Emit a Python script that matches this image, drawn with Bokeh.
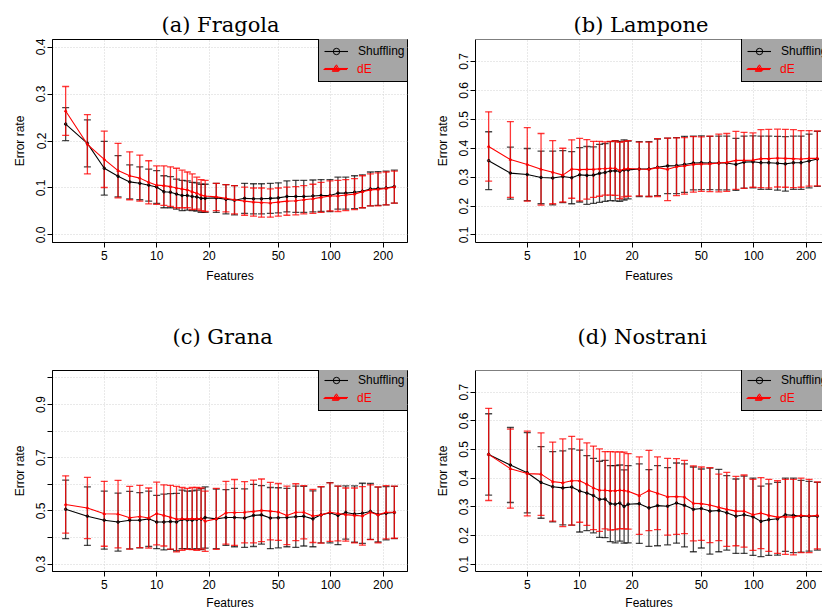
import math
from bokeh.plotting import figure
from bokeh.models import (ColumnDataSource, Range1d, FixedTicker, PrintfTickFormatter,
                          Whisker, TeeHead, Legend, LegendItem, Span)
from bokeh.layouts import column, row
from bokeh.embed import file_html
from bokeh.resources import INLINE

# ---------------- data ----------------
FEATURES = [3, 4, 5, 6, 7, 8, 9, 10, 11, 12, 13, 14, 15, 16, 17, 18, 19, 22, 25, 28,
            32, 36, 40, 45, 50, 56, 63, 70, 79, 88, 99, 110, 122, 137, 152, 169, 187, 208, 232]

X_TICKS = [5, 10, 20, 50, 100, 200]
SERIES_NAMES = ["Shuffling", "dE"]

# (a) Fragola
shuf_mean_a = [0.236, 0.195, 0.142, 0.125, 0.113, 0.110, 0.106, 0.102, 0.092, 0.091, 0.087, 0.084, 0.084,
               0.082, 0.081, 0.078, 0.078, 0.079, 0.076, 0.074, 0.078, 0.077, 0.077, 0.078, 0.079, 0.082,
               0.082, 0.082, 0.083, 0.084, 0.084, 0.089, 0.089, 0.091, 0.093, 0.098, 0.099, 0.100, 0.103]
shuf_sd_a = [0.035, 0.050, 0.057, 0.044, 0.036, 0.035, 0.034, 0.035, 0.034, 0.033, 0.032, 0.032, 0.031,
             0.030, 0.030, 0.030, 0.030, 0.031, 0.031, 0.031, 0.032, 0.032, 0.032, 0.032, 0.032, 0.033,
             0.034, 0.034, 0.034, 0.034, 0.034, 0.034, 0.034, 0.035, 0.035, 0.036, 0.036, 0.036, 0.035]
de_mean_a = [0.264, 0.193, 0.161, 0.137, 0.126, 0.121, 0.112, 0.106, 0.105, 0.103, 0.100, 0.098, 0.096,
             0.092, 0.089, 0.085, 0.083, 0.081, 0.078, 0.075, 0.072, 0.070, 0.069, 0.068, 0.070, 0.072,
             0.073, 0.075, 0.077, 0.080, 0.083, 0.083, 0.085, 0.087, 0.092, 0.096, 0.097, 0.099, 0.102]
de_sd_a = [0.052, 0.063, 0.060, 0.058, 0.051, 0.049, 0.046, 0.041, 0.042, 0.042, 0.042, 0.040, 0.038,
           0.038, 0.034, 0.033, 0.033, 0.029, 0.029, 0.030, 0.030, 0.030, 0.031, 0.030, 0.030, 0.030,
           0.030, 0.030, 0.031, 0.032, 0.032, 0.033, 0.033, 0.033, 0.034, 0.034, 0.035, 0.035, 0.034]

# (b) Lampone
shuf_mean_b = [0.357, 0.314, 0.309, 0.299, 0.297, 0.302, 0.298, 0.308, 0.306, 0.307, 0.313, 0.316, 0.321,
               0.322, 0.320, 0.325, 0.325, 0.328, 0.328, 0.334, 0.339, 0.340, 0.344, 0.349, 0.350, 0.349,
               0.349, 0.349, 0.344, 0.352, 0.353, 0.350, 0.350, 0.348, 0.346, 0.350, 0.350, 0.356, 0.363]
shuf_sd_b = [0.100, 0.090, 0.090, 0.091, 0.093, 0.090, 0.090, 0.094, 0.100, 0.098, 0.100, 0.100, 0.102,
             0.104, 0.104, 0.104, 0.100, 0.095, 0.095, 0.098, 0.096, 0.097, 0.097, 0.093, 0.093, 0.092,
             0.093, 0.093, 0.090, 0.090, 0.090, 0.092, 0.092, 0.093, 0.094, 0.092, 0.092, 0.093, 0.095]
de_mean_b = [0.406, 0.361, 0.344, 0.327, 0.317, 0.307, 0.328, 0.326, 0.327, 0.327, 0.329, 0.330, 0.331,
             0.331, 0.323, 0.328, 0.330, 0.328, 0.327, 0.333, 0.327, 0.336, 0.339, 0.344, 0.345, 0.346,
             0.349, 0.351, 0.358, 0.358, 0.359, 0.364, 0.364, 0.366, 0.365, 0.364, 0.363, 0.365, 0.365]
de_sd_b = [0.120, 0.131, 0.127, 0.124, 0.109, 0.093, 0.101, 0.108, 0.103, 0.097, 0.095, 0.092, 0.093,
           0.094, 0.097, 0.096, 0.096, 0.093, 0.094, 0.100, 0.108, 0.100, 0.098, 0.096, 0.094, 0.096,
           0.100, 0.100, 0.100, 0.097, 0.094, 0.100, 0.101, 0.100, 0.100, 0.100, 0.098, 0.096, 0.095]

# (c) Grana
shuf_mean_c = [0.506, 0.480, 0.465, 0.458, 0.465, 0.465, 0.470, 0.458, 0.458, 0.460, 0.458, 0.468, 0.466,
               0.465, 0.468, 0.469, 0.475, 0.470, 0.475, 0.475, 0.473, 0.483, 0.485, 0.473, 0.474, 0.475,
               0.478, 0.480, 0.470, 0.485, 0.493, 0.483, 0.494, 0.488, 0.491, 0.498, 0.486, 0.491, 0.494]
shuf_sd_c = [0.110, 0.110, 0.109, 0.109, 0.108, 0.104, 0.104, 0.100, 0.105, 0.105, 0.108, 0.110, 0.108,
             0.110, 0.110, 0.115, 0.115, 0.112, 0.105, 0.110, 0.110, 0.117, 0.110, 0.115, 0.113, 0.110,
             0.115, 0.112, 0.105, 0.105, 0.113, 0.110, 0.100, 0.106, 0.113, 0.105, 0.103, 0.100, 0.098]
de_mean_c = [0.524, 0.511, 0.489, 0.488, 0.474, 0.479, 0.473, 0.490, 0.483, 0.476, 0.469, 0.470, 0.470,
             0.471, 0.470, 0.471, 0.461, 0.470, 0.493, 0.494, 0.495, 0.498, 0.502, 0.499, 0.496, 0.483,
             0.495, 0.495, 0.481, 0.485, 0.495, 0.490, 0.486, 0.483, 0.481, 0.495, 0.485, 0.495, 0.495]
de_sd_c = [0.108, 0.115, 0.122, 0.127, 0.118, 0.117, 0.113, 0.118, 0.115, 0.120, 0.123, 0.118, 0.115,
           0.117, 0.118, 0.115, 0.113, 0.115, 0.118, 0.124, 0.115, 0.118, 0.118, 0.108, 0.107, 0.110,
           0.107, 0.100, 0.100, 0.106, 0.110, 0.103, 0.100, 0.103, 0.110, 0.103, 0.105, 0.100, 0.098]

# (d) Nostrani
shuf_mean_d = [0.483, 0.446, 0.419, 0.385, 0.370, 0.366, 0.369, 0.355, 0.348, 0.339, 0.326, 0.327, 0.311,
               0.309, 0.313, 0.301, 0.309, 0.311, 0.296, 0.304, 0.302, 0.313, 0.305, 0.291, 0.294, 0.285,
               0.287, 0.279, 0.267, 0.272, 0.265, 0.249, 0.255, 0.258, 0.272, 0.270, 0.267, 0.267, 0.267]
shuf_sd_d = [0.142, 0.131, 0.140, 0.125, 0.123, 0.129, 0.133, 0.143, 0.131, 0.130, 0.133, 0.135, 0.133,
             0.135, 0.133, 0.128, 0.135, 0.139, 0.134, 0.140, 0.135, 0.140, 0.145, 0.148, 0.138, 0.150,
             0.144, 0.130, 0.130, 0.135, 0.135, 0.123, 0.125, 0.127, 0.128, 0.130, 0.125, 0.122, 0.118]
de_mean_d = [0.483, 0.433, 0.416, 0.414, 0.388, 0.384, 0.391, 0.391, 0.379, 0.366, 0.358, 0.358, 0.356,
             0.356, 0.358, 0.357, 0.354, 0.339, 0.357, 0.347, 0.335, 0.336, 0.334, 0.312, 0.311, 0.306,
             0.298, 0.291, 0.285, 0.285, 0.272, 0.278, 0.270, 0.264, 0.265, 0.264, 0.270, 0.268, 0.270]
de_sd_d = [0.161, 0.138, 0.148, 0.144, 0.138, 0.153, 0.155, 0.145, 0.144, 0.146, 0.144, 0.135, 0.137,
           0.136, 0.134, 0.134, 0.132, 0.135, 0.140, 0.127, 0.134, 0.132, 0.128, 0.131, 0.128, 0.131,
           0.116, 0.129, 0.121, 0.126, 0.124, 0.124, 0.126, 0.127, 0.131, 0.132, 0.130, 0.128, 0.117]

# y limits (R style, extended by 4%) and y ticks per panel
YLIM_A, YTICKS_A = (0.0, 0.4), [0.0, 0.1, 0.2, 0.3, 0.4]
YLIM_B, YTICKS_B = (0.1, 0.75), [0.1, 0.2, 0.3, 0.4, 0.5, 0.6, 0.7]
YLIM_C, YTICKS_C = (0.3, 1.0), [0.3, 0.4, 0.5, 0.6, 0.7, 0.8, 0.9, 1.0]
YLIM_D, YTICKS_D = (0.1, 0.75), [0.1, 0.2, 0.3, 0.4, 0.5, 0.6, 0.7]
YLABELS_C = {0.3: "0.3", 0.4: "", 0.5: "0.5", 0.6: "", 0.7: "0.7", 0.8: "", 0.9: "0.9", 1.0: ""}

# ---------------- style ----------------
SANS = "Liberation Sans"
SERIF = "DejaVu Serif"
BLACK = "#000000"
RED = "#ff0000"
LEGEND_BG = "#a6a6a6"
GRID = "#d3d3d3"

FIG_W = 411
ROW1_H, ROW2_H = 290, 322
LEFT_FRAME_W, RIGHT_FRAME_W = 355, 347
FRAME_H = 203

lx0, lx1 = math.log10(min(FEATURES)), math.log10(max(FEATURES))
span = lx1 - lx0
LOG_START = lx0 - 0.04 * span
LOG_END_FULL = lx1 + 0.04 * span
PX_PER_DEC = LEFT_FRAME_W / (LOG_END_FULL - LOG_START)


def ext(lim):
    d = (lim[1] - lim[0]) * 0.04
    return lim[0] - d, lim[1] + d


def make_panel(title, means, sds, ylim, yticks, right_col, top_row, ylabels=None, title_offset=100):
    if right_col:
        x_end = 10 ** (LOG_START + RIGHT_FRAME_W / PX_PER_DEC)
        mb_left, mb_right = 64, 0
    else:
        x_end = 10 ** LOG_END_FULL
        mb_left, mb_right = 52, 4
    if top_row:
        h, mb_top, mb_bottom, t_standoff, xl_standoff = ROW1_H, 39, 48, 6, 6
    else:
        h, mb_top, mb_bottom, t_standoff, xl_standoff = ROW2_H, 80, 39, 44, 4
    y0, y1 = ext(ylim)
    p = figure(width=FIG_W, height=h, x_axis_type="log",
               x_range=Range1d(10 ** LOG_START, x_end), y_range=Range1d(y0, y1),
               output_backend="svg", toolbar_location=None, tools="",
               min_border_left=mb_left, min_border_right=mb_right,
               min_border_top=mb_top, min_border_bottom=mb_bottom,
               title=title)
    p.background_fill_color = "white"
    p.border_fill_color = "white"
    if right_col:
        p.outline_line_color = None
        p.add_layout(Span(location=y1, dimension="width", line_color=BLACK, line_width=1))
    else:
        p.outline_line_color = BLACK
        p.outline_line_width = 1
        p.outline_line_alpha = 1

    p.title.text_font = SERIF
    p.title.text_font_size = "21px"
    p.title.text_font_style = "normal"
    p.title.text_color = BLACK
    p.title.align = "left"
    p.title.offset = title_offset
    p.title.standoff = t_standoff

    # axes
    p.xaxis.ticker = FixedTicker(ticks=X_TICKS, minor_ticks=[])
    p.xaxis.formatter = PrintfTickFormatter(format="%d")
    p.yaxis.ticker = FixedTicker(ticks=yticks, minor_ticks=[])
    if ylabels is not None:
        p.yaxis.major_label_overrides = ylabels
    else:
        p.yaxis.formatter = PrintfTickFormatter(format="%.1f")
    p.yaxis.major_label_orientation = "vertical"
    p.xaxis.axis_label = "Features"
    p.yaxis.axis_label = "Error rate"
    for ax in (p.xaxis, p.yaxis):
        ax.axis_line_color = BLACK
        ax.axis_line_width = 1
        ax.major_tick_line_color = BLACK
        ax.major_tick_out = 5
        ax.major_tick_in = 0
        ax.minor_tick_line_color = None
        ax.major_label_text_font = SANS
        ax.major_label_text_font_size = "12px"
        ax.major_label_text_color = BLACK
        ax.axis_label_text_font = SANS
        ax.axis_label_text_font_size = "12px"
        ax.axis_label_text_font_style = "normal"
        ax.axis_label_text_color = BLACK
    p.xaxis.major_label_standoff = 3
    p.xaxis.axis_label_standoff = xl_standoff
    p.yaxis.major_label_standoff = 2
    p.yaxis.axis_label_standoff = 7

    # dotted grid
    for g in (p.xgrid, p.ygrid):
        g.grid_line_color = GRID
        g.grid_line_dash = "1 2"
        g.grid_line_width = 1

    # error bars
    colors = [BLACK, RED]
    alphas = [0.72, 0.78]
    markers = ["circle", "triangle"]
    for m, s, c, a in zip(means, sds, colors, alphas):
        src = ColumnDataSource(data=dict(
            x=FEATURES,
            upper=[mm + ss for mm, ss in zip(m, s)],
            lower=[mm - ss for mm, ss in zip(m, s)]))
        w = Whisker(base="x", upper="upper", lower="lower", source=src, dimension="height",
                    line_color=c, line_alpha=a, line_width=1.3,
                    upper_head=TeeHead(size=7, line_color=c, line_alpha=a, line_width=1.3),
                    lower_head=TeeHead(size=7, line_color=c, line_alpha=a, line_width=1.3))
        p.add_layout(w)

    # mean lines + tiny open markers (these also give the legend glyphs)
    line_r, mark_r = [], []
    for m, c, mk in zip(means, colors, markers):
        src = ColumnDataSource(data=dict(x=FEATURES, y=m))
        lr = p.line("x", "y", source=src, line_color=c, line_width=1.1)
        mr = p.scatter("x", "y", source=src, size=2.5, marker=mk, fill_color=None,
                       line_color=c, line_width=1)
        line_r.append(lr)
        mark_r.append(mr)

    leg_kw = dict(padding=5, spacing=1, glyph_width=24, glyph_height=16, label_height=16,
                  label_standoff=10, margin=0, label_text_font=SANS, label_text_font_size="12px",
                  location=(266, FRAME_H - 43))
    leg1 = Legend(items=[LegendItem(label=SERIES_NAMES[0], renderers=[line_r[0], mark_r[0]]),
                         LegendItem(label=" ", renderers=[line_r[1], mark_r[1]])],
                  background_fill_color=LEGEND_BG, background_fill_alpha=1,
                  border_line_color=BLACK, border_line_width=1, border_line_alpha=1,
                  label_text_color=BLACK, **leg_kw)
    leg2 = Legend(items=[LegendItem(label=SERIES_NAMES[1], renderers=[line_r[1], mark_r[1]])],
                  background_fill_alpha=0, border_line_alpha=0,
                  label_text_color=RED, **leg_kw)
    p.add_layout(leg1, "center")
    p.add_layout(leg2, "center")
    return p


pa = make_panel("(a) Fragola", [shuf_mean_a, de_mean_a], [shuf_sd_a, de_sd_a], YLIM_A, YTICKS_A,
                right_col=False, top_row=True, title_offset=109)
pb = make_panel("(b) Lampone", [shuf_mean_b, de_mean_b], [shuf_sd_b, de_sd_b], YLIM_B, YTICKS_B,
                right_col=True, top_row=True, title_offset=98)
pc = make_panel("(c) Grana", [shuf_mean_c, de_mean_c], [shuf_sd_c, de_sd_c], YLIM_C, YTICKS_C,
                right_col=False, top_row=False, ylabels=YLABELS_C, title_offset=120)
pd_ = make_panel("(d) Nostrani", [shuf_mean_d, de_mean_d], [shuf_sd_d, de_sd_d], YLIM_D, YTICKS_D,
                 right_col=True, top_row=False, title_offset=102)

layout = column(row(pa, pb), row(pc, pd_))
open("out.html", "w").write(file_html(layout, INLINE))
